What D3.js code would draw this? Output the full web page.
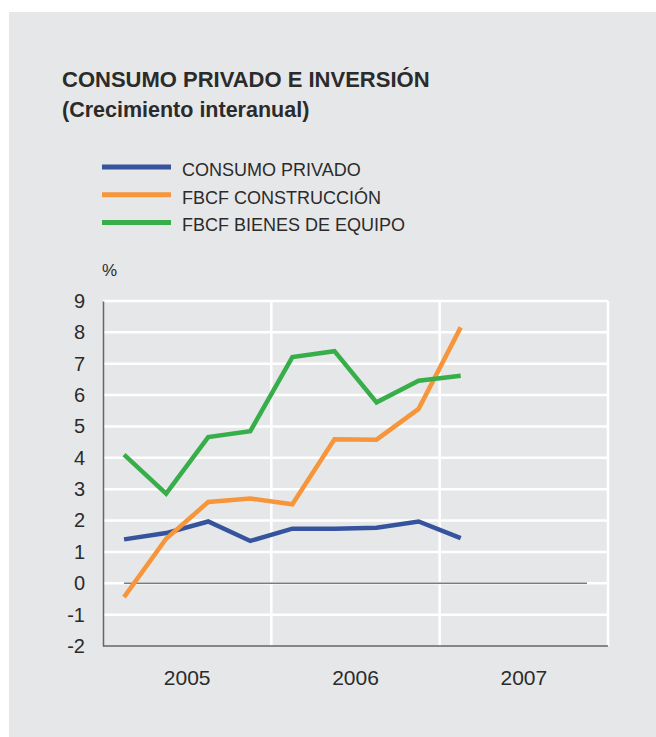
<!DOCTYPE html>
<html>
<head>
<meta charset="utf-8">
<script src="https://cdn.jsdelivr.net/npm/d3@7"></script>
<style>
  body { margin: 0; background: #fff; }
  text { font-family: "Liberation Sans", Arial, sans-serif; fill: #2b2b2b; }
</style>
</head>
<body>
<div id="chart"></div>
<script>
// data (quarterly, 2005 T1 .. 2007 T1)
var years = ["2005", "2006", "2007"];
var quarters = ["2005T1", "2005T2", "2005T3", "2005T4",
                "2006T1", "2006T2", "2006T3", "2006T4",
                "2007T1", "2007T2", "2007T3", "2007T4"];
var yTicks = [-2, -1, 0, 1, 2, 3, 4, 5, 6, 7, 8, 9];

var consumoPrivado   = [1.40, 1.60, 1.97, 1.35, 1.74, 1.74, 1.77, 1.97, 1.44];
var fbcfConstruccion = [-0.44, 1.42, 2.59, 2.70, 2.52, 4.59, 4.58, 5.56, 8.16];
var fbcfBienesEquipo = [4.10, 2.86, 4.66, 4.85, 7.21, 7.40, 5.77, 6.46, 6.62];

var seriesNames = ["CONSUMO PRIVADO", "FBCF CONSTRUCCIÓN", "FBCF BIENES DE EQUIPO"];
var seriesColors = ["#36539d", "#f7953b", "#38ae4a"];
var seriesValues = [consumoPrivado, fbcfConstruccion, fbcfBienesEquipo];

var W = 656, H = 737;
var margin = { top: 301, right: 48, bottom: 91, left: 103 };

var svg = d3.select("#chart")
    .append("svg")
    .attr("width", W)
    .attr("height", H);

// grey panel
svg.append("rect")
    .attr("x", 9).attr("y", 12)
    .attr("width", W - 9).attr("height", H - 12)
    .attr("fill", "#e6e7e8");

// title
svg.append("text")
    .attr("x", 62).attr("y", 87)
    .style("font-size", "22px").style("font-weight", "bold")
    .attr("fill", "#222")
    .text("CONSUMO PRIVADO E INVERSIÓN");
svg.append("text")
    .attr("x", 62).attr("y", 117)
    .style("font-size", "21.5px").style("font-weight", "bold")
    .attr("fill", "#222")
    .text("(Crecimiento interanual)");

// legend
var legend = svg.append("g");
seriesNames.forEach(function(name, i) {
    var y = 167 + i * 27.7;
    legend.append("line")
        .attr("x1", 102).attr("x2", 171)
        .attr("y1", y).attr("y2", y)
        .attr("stroke", seriesColors[i])
        .attr("stroke-width", 5);
    legend.append("text")
        .attr("x", 182).attr("y", y + 9)
        .style("font-size", "18px")
        .attr("fill", "#333")
        .text(name);
});

// unit
svg.append("text")
    .attr("x", 102).attr("y", 276)
    .style("font-size", "17px")
    .text("%");

var width = W - margin.left - margin.right,
    height = H - margin.top - margin.bottom;

var g = svg.append("g")
    .attr("transform", "translate(" + margin.left + "," + margin.top + ")");

var xYear = d3.scaleBand().domain(years).range([0, width]);
var xQ = d3.scaleBand().domain(quarters).range([0, width]);
var y = d3.scaleLinear().domain([-2, 9]).range([height, 0]);

function qx(i) { return xQ(quarters[i]) + xQ.bandwidth() / 2; }

// horizontal grid
g.selectAll(".hgrid")
    .data(yTicks.filter(function(d) { return d > -2; }))
    .enter().append("line")
    .attr("x1", 0).attr("x2", width)
    .attr("y1", function(d) { return y(d); })
    .attr("y2", function(d) { return y(d); })
    .attr("stroke", "#fff")
    .attr("stroke-width", 2.5);

// vertical grid at year boundaries
g.selectAll(".vgrid")
    .data(years)
    .enter().append("line")
    .attr("x1", function(d) { return xYear(d) + xYear.bandwidth(); })
    .attr("x2", function(d) { return xYear(d) + xYear.bandwidth(); })
    .attr("y1", 0).attr("y2", height)
    .attr("stroke", "#fff")
    .attr("stroke-width", 2.5);

// zero line
g.append("line")
    .attr("x1", qx(0)).attr("x2", qx(quarters.length - 1))
    .attr("y1", y(0)).attr("y2", y(0))
    .attr("stroke", "#7a7a7a")
    .attr("stroke-width", 1.5);

// axes
var yAxis = g.append("g")
    .call(d3.axisLeft(y).tickValues(yTicks).tickSize(0).tickPadding(18)
        .tickFormat(function(d) { return String(d); }));
yAxis.select(".domain").attr("stroke", "#666").attr("stroke-width", 1.5);
yAxis.selectAll("text")
    .style("font-size", "20px")
    .attr("fill", "#333");

var xAxis = g.append("g")
    .attr("transform", "translate(0," + height + ")")
    .call(d3.axisBottom(xYear).tickSize(0).tickPadding(24));
xAxis.select(".domain").attr("stroke", "#666").attr("stroke-width", 1.5)
    .attr("d", "M0,0H" + width);
xAxis.selectAll("text")
    .style("font-size", "21px")
    .attr("fill", "#333");

// lines
var line = d3.line()
    .x(function(d, i) { return qx(i); })
    .y(function(d) { return y(d); });

seriesValues.forEach(function(vals, i) {
    g.append("path")
        .datum(vals)
        .attr("d", line)
        .attr("fill", "none")
        .attr("stroke", seriesColors[i])
        .attr("stroke-width", 4.5)
        .attr("stroke-linejoin", "miter");
});
</script>
</body>
</html>
